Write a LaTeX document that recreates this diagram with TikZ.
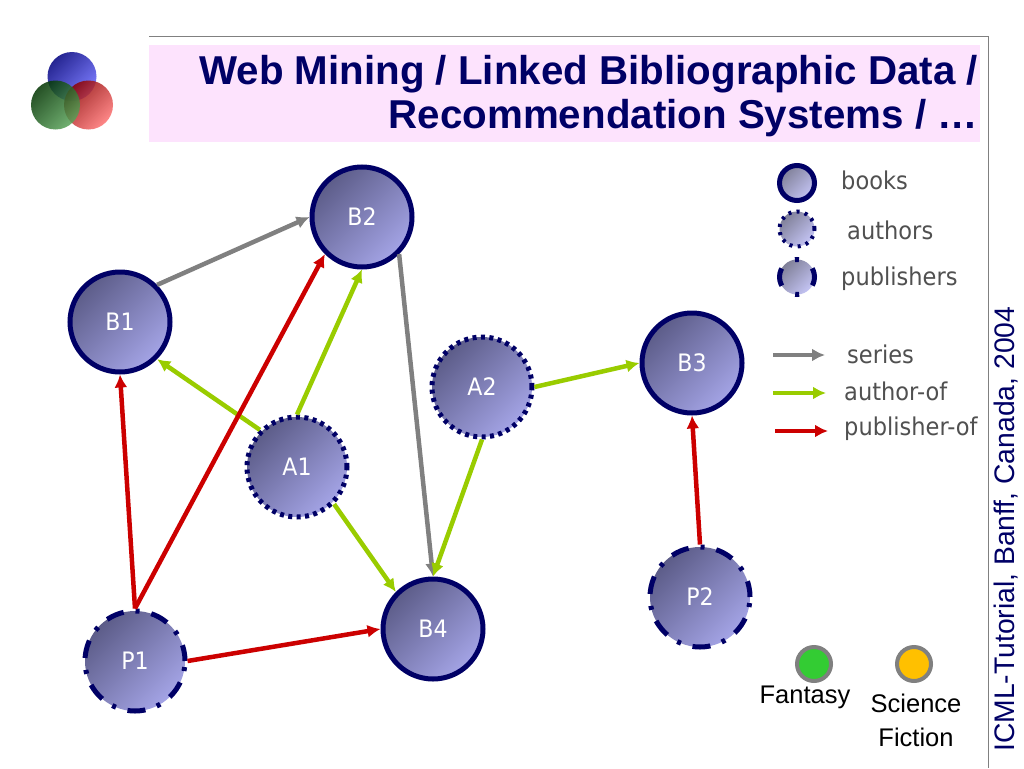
\documentclass[tikz,border=0pt]{standalone}
\usepackage{fontspec}
\setmainfont{Liberation Sans}
\newfontfamily\lab[FakeStretch=0.92]{DejaVu Sans}
\usetikzlibrary{arrows.meta}
\definecolor{navy}{HTML}{000066}
\definecolor{pinkbg}{HTML}{FDE3FD}
\definecolor{graya}{HTML}{808080}
\definecolor{greena}{HTML}{99CC00}
\definecolor{reda}{HTML}{CC0000}
\definecolor{labgray}{HTML}{505050}
\definecolor{nodedark}{HTML}{5C5C88}
\definecolor{nodelight}{HTML}{A4A4E6}
\definecolor{legdark}{HTML}{808098}
\definecolor{leglight}{HTML}{C4C4F4}
\definecolor{fantasy}{HTML}{33CC33}
\definecolor{scifi}{HTML}{FFC000}
\tikzset{
  entity/.style={circle,minimum size=100pt,inner sep=0pt,draw=navy,line width=5pt,
    top color=nodedark,bottom color=nodelight,shading angle=45,
    text=white,font=\lab\fontsize{24}{24}\selectfont},
  bookn/.style={entity},
  authorn/.style={entity,dash pattern=on 4pt off 4.4pt},
  publishn/.style={entity,dash pattern=on 18pt off 12pt on 4pt off 12pt,dash phase=2pt},
  legb/.style={entity,minimum size=35pt,top color=legdark,bottom color=leglight,shading angle=45},
  arr/.style={line width=4.5pt,-{Latex[length=13pt,width=13pt]}},
  serieslink/.style={arr,draw=graya},
  authorlink/.style={arr,draw=greena},
  publink/.style={arr,draw=reda},
  leglabel/.style={text=labgray,font=\lab\fontsize{24.5}{24.5}\selectfont,inner sep=0pt},
  genre/.style={circle,minimum size=34pt,inner sep=0pt,draw=graya,line width=4pt},
  genretext/.style={text=black,font=\fontsize{25.5}{25.5}\selectfont,inner sep=0pt},
  titletext/.style={text=navy,font=\bfseries\fontsize{40.3}{40.3}\selectfont,inner sep=0pt,anchor=east},
}
\begin{document}
\begin{tikzpicture}[x=1pt,y=-1pt]
\useasboundingbox (0,0) rectangle (1024,768);
\fill[white] (0,0) rectangle (1024,768);
% logo
\begin{scope}[fill opacity=.85]
\shade[top color=blue!50!black,bottom color=blue!60!white,shading angle=45] (72,76.5) circle[radius=24.5];
\shade[top color=red!55!black,bottom color=red!55!white,shading angle=45] (88.5,105) circle[radius=24.5];
\shade[top color=green!20!black,bottom color=green!45!black!65!white,shading angle=45] (55.5,105) circle[radius=24.5];
\end{scope}
% frame
\fill[pinkbg] (149,45) rectangle (980,142);
\draw[gray,line width=1pt] (149,37) -- (988,37) -- (988,768);
\node[titletext] (t1) at (978,74) {Web Mining / Linked Bibliographic Data /};
\node[titletext] (t2) at (978,118) {Recommendation Systems / …};
\node[rotate=90,anchor=west,text=navy,font=\fontsize{28.3}{28.3}\selectfont,inner sep=0pt] (side) at (1006,752) {ICML-Tutorial, Banff, Canada, 2004};
% nodes
\node[bookn] (b1) at (120,322) {B1};
\node[bookn] (b2) at (362,217) {B2};
\node[bookn] (b3) at (692,363) {B3};
\node[bookn] (b4) at (433,629) {B4};
\node[authorn] (a1) at (297,467) {A1};
\node[authorn] (a2) at (482,387) {A2};
\node[publishn] (p1) at (135,661) {P1};
\node[publishn] (p2) at (700,597) {P2};
% edges
\draw[serieslink] (b1.45) -- (b2.west);
\draw[serieslink] (b2.-45) -- (b4.north);
\draw[authorlink] (a1.135) -- (b1.-45);
\draw[authorlink] (a1.north) -- (b2.south);
\draw[authorlink] (a1.-45) -- (b4.135);
\draw[authorlink] (a2.south) -- (b4.north);
\draw[authorlink] (a2.east) -- (b3.west);
\draw[publink] (p1.north) -- (b1.south);
\draw[publink] (p1.north) -- (b2.225);
\draw[publink] (p1.east) -- (b4.west);
\draw[publink] (p2.north) -- (b3.south);
% legend
\node[legb] (lb) at (797,183) {};
\node[legb,line width=4pt,dash pattern=on 3pt off 5.3pt] (la) at (797,229) {};
\node[legb,dash pattern=on 18pt off 16.5pt on 4pt off 16.5pt,dash phase=9pt] (lp) at (797,277) {};
\node[leglabel,anchor=west] (tb) at (841,180) {books};
\node[leglabel,anchor=west] (ta) at (847,230) {authors};
\node[leglabel,anchor=west] (tp) at (841,279) {publishers};
\coordinate (s0) at (773,355); \coordinate (s1) at (825,355);
\coordinate (g0) at (773,393); \coordinate (g1) at (826,393);
\coordinate (r0) at (775,431); \coordinate (r1) at (828,431);
\draw[serieslink] (s0) -- (s1);
\draw[authorlink] (g0) -- (g1);
\draw[publink] (r0) -- (r1);
\node[leglabel,anchor=west] (ts) at (847,354) {series};
\node[leglabel,anchor=west] (tg) at (844,391) {author-of};
\node[leglabel,anchor=west] (tr) at (844,429) {publisher-of};
% genres
\node[genre,fill=fantasy] (gf) at (814,664) {};
\node[genre,fill=scifi] (gs) at (914,664) {};
\node[genretext] (tf) at (805,697) {Fantasy};
\node[genretext] (ts1) at (916,703) {Science};
\node[genretext] (ts2) at (916,737) {Fiction};
\end{tikzpicture}
\end{document}
